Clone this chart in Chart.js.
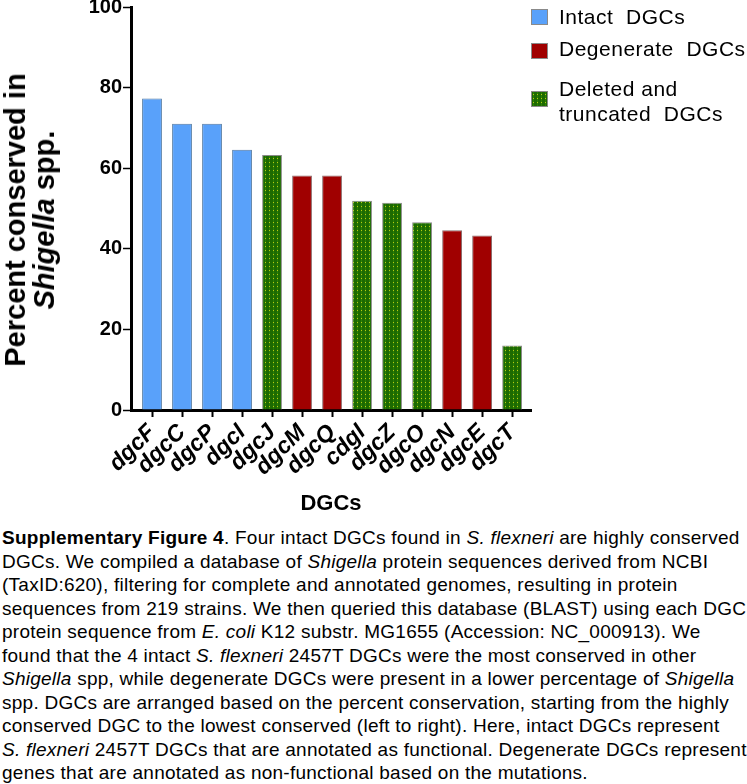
<!DOCTYPE html>
<html>
<head>
<meta charset="utf-8">
<script src="https://cdn.jsdelivr.net/npm/chart.js@4.4.1/dist/chart.umd.min.js"></script>
<style>
  body { margin: 0; background: #fff; width: 747px; height: 784px; position: relative; overflow: hidden; font-family: 'Liberation Sans', Arial, sans-serif; }
  #chartBox { position: absolute; left: 0; top: 0; width: 747px; height: 520px; }
  #yTitle { position: absolute; left: 30px; top: 220px; transform: translate(-50%, -50%) rotate(-90deg); white-space: nowrap; text-align: center; font-weight: bold; font-size: 29px; line-height: 29px; color: #000; }
  .leg { position: absolute; font-size: 21px; letter-spacing: 0.5px; line-height: 23px; white-space: pre; color: #000; }
  .sw { position: absolute; width: 17px; height: 16px; box-sizing: border-box; border: 1px solid #8a8a8a; }
  #caption { position: absolute; left: 2px; top: 526px; font-size: 19px; letter-spacing: 0.25px; line-height: 23.5px; white-space: nowrap; color: #000; }
</style>
</head>
<body>
<div id="chartBox"><canvas id="dgcChart" width="747" height="520"></canvas></div>
<div id="yTitle">Percent conserved in<br><i>Shigella</i> spp.</div>

<div class="sw" id="swIntact" style="left:531px; top:9px;"></div>
<div class="leg" style="left:559px; top:5px;">Intact  DGCs</div>
<div class="sw" id="swDegen" style="left:531px; top:43px;"></div>
<div class="leg" style="left:559px; top:37px;">Degenerate  DGCs</div>
<div class="sw" id="swDeleted" style="left:531px; top:91px;"></div>
<div class="leg" style="left:559px; top:76px; line-height:25px;">Deleted and<br>truncated  DGCs</div>

<div id="caption"><b>Supplementary Figure 4</b>. Four intact DGCs found in <i>S. flexneri</i> are highly conserved<br>DGCs. We compiled a database of <i>Shigella</i> protein sequences derived from NCBI<br>(TaxID:620), filtering for complete and annotated genomes, resulting in protein<br>sequences from 219 strains. We then queried this database (BLAST) using each DGC<br>protein sequence from <i>E. coli</i> K12 substr. MG1655 (Accession: NC_000913). We<br>found that the 4 intact <i>S. flexneri</i> 2457T DGCs were the most conserved in other<br><i>Shigella</i> spp, while degenerate DGCs were present in a lower percentage of <i>Shigella</i><br>spp. DGCs are arranged based on the percent conservation, starting from the highly<br>conserved DGC to the lowest conserved (left to right). Here, intact DGCs represent<br><i>S. flexneri</i> 2457T DGCs that are annotated as functional. Degenerate DGCs represent<br>genes that are annotated as non-functional based on the mutations.</div>

<script>
// DGC conservation data
const dgcNames = ['dgcF', 'dgcC', 'dgcP', 'dgcI', 'dgcJ', 'dgcM', 'dgcQ', 'cdgI', 'dgcZ', 'dgcO', 'dgcN', 'dgcE', 'dgcT'];
const percentConserved = [77.3, 71.0, 71.0, 64.6, 63.3, 58.2, 58.2, 51.9, 51.4, 46.6, 44.6, 43.3, 16.0];
const dgcGroup = ['intact', 'intact', 'intact', 'intact', 'deleted', 'degenerate', 'degenerate', 'deleted', 'deleted', 'deleted', 'degenerate', 'degenerate', 'deleted'];
const yTicks = [0, 20, 40, 60, 80, 100];

// dotted green fill for the deleted / truncated group
function makeDots() {
    const c = document.createElement('canvas');
    c.width = 4; c.height = 4;
    const g = c.getContext('2d');
    g.fillStyle = '#1d6a00';
    g.fillRect(0, 0, 4, 4);
    g.fillStyle = '#2b8008';
    g.fillRect(1, 0, 1, 4);
    g.fillStyle = '#b8cc10';
    g.fillRect(1, 2, 1, 1);
    return c;
}
const dotTile = makeDots();
const dotPattern = document.getElementById('dgcChart').getContext('2d').createPattern(dotTile, 'repeat');

const fills = { intact: '#59a1fa', degenerate: '#a00000', deleted: dotPattern };
const edges = { intact: '#50779f', degenerate: '#8a6a6a', deleted: '#8a8a8a' };

document.getElementById('swIntact').style.background = fills.intact;
document.getElementById('swDegen').style.background = fills.degenerate;
document.getElementById('swDeleted').style.background = 'url(' + dotTile.toDataURL() + ')';

const fontFam = "'Liberation Sans', Arial, sans-serif";

new Chart(document.getElementById('dgcChart'), {
    type: 'bar',
    data: {
        datasets: [{
            label: 'Percent conserved',
            data: percentConserved.map((v, i) => ({ x: i, y: v })),
            backgroundColor: dgcGroup.map(g => fills[g]),
            borderColor: dgcGroup.map(g => edges[g]),
            borderWidth: 1,
            categoryPercentage: 1,
            barPercentage: 0.66
        }]
    },
    options: {
        responsive: false,
        animation: false,
        devicePixelRatio: 1,
        layout: { padding: { top: 7, right: 216, left: 0, bottom: 0 } },
        plugins: { legend: { display: false }, tooltip: { enabled: false } },
        scales: {
            x: {
                type: 'linear',
                min: -0.7,
                max: 12.63,
                offset: false,
                grid: { offset: false, drawOnChartArea: false, color: '#000', tickLength: 7, tickWidth: 2 },
                border: { color: '#000', width: 3 },
                afterBuildTicks: s => { s.ticks = dgcNames.map((n, i) => ({ value: i })); },
                ticks: {
                    color: '#000',
                    autoSkip: false,
                    minRotation: 45,
                    maxRotation: 45,
                    padding: 2,
                    callback: v => dgcNames[v],
                    font: { family: fontFam, size: 23, weight: 'bold', style: 'italic' }
                },
                title: {
                    display: true,
                    text: 'DGCs',
                    color: '#000',
                    padding: { top: 0, bottom: 3 },
                    font: { family: fontFam, size: 22, weight: 'bold' }
                },
                afterFit: s => { s.height = 110; s.paddingLeft = 0; s.paddingRight = 0; }
            },
            y: {
                min: 0,
                max: 100,
                grid: { drawOnChartArea: false, color: '#000', tickLength: 8, tickWidth: 1.5 },
                border: { color: '#000', width: 3 },
                ticks: {
                    color: '#000',
                    padding: 1,
                    font: { family: fontFam, size: 20, weight: 'bold' }
                },
                afterBuildTicks: s => { s.ticks = yTicks.map(v => ({ value: v })); },
                afterFit: s => { s.width = 131; s.paddingTop = 0; s.paddingBottom = 0; }
            }
        }
    }
});
</script>
</body>
</html>
